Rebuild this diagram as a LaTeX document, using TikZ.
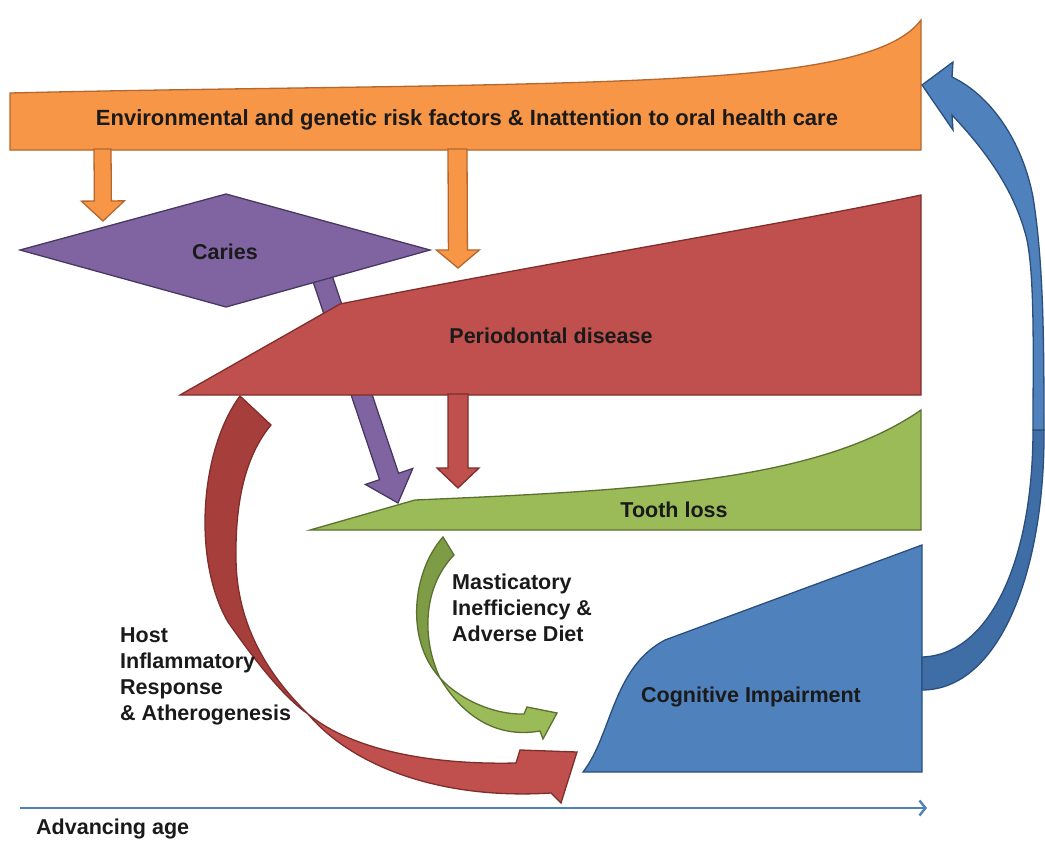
\documentclass[tikz,border=0pt]{standalone}
\usepackage{fontspec}
\setmainfont{Liberation Sans}
\usetikzlibrary{calc,arrows.meta}

\definecolor{orfill}{HTML}{F79646}
\definecolor{orline}{HTML}{B4672E}
\definecolor{rdfill}{HTML}{C0504D}
\definecolor{rddark}{HTML}{A63E3C}
\definecolor{rdline}{HTML}{7F2E2C}
\definecolor{pufill}{HTML}{8064A2}
\definecolor{puline}{HTML}{483861}
\definecolor{grfill}{HTML}{9BBB59}
\definecolor{grdark}{HTML}{7E9B45}
\definecolor{grline}{HTML}{5A7130}
\definecolor{blfill}{HTML}{4F81BD}
\definecolor{bldark}{HTML}{3F6DA6}
\definecolor{blline}{HTML}{2B4F7C}
\definecolor{ink}{HTML}{1A1A1A}

\tikzset{
  orshape/.style={fill=orfill, draw=orline, line width=1.3pt},
  rdshape/.style={fill=rdfill, draw=rdline, line width=1.3pt},
  rdback/.style={fill=rddark, draw=rdline, line width=1.3pt},
  pushape/.style={fill=pufill, draw=puline, line width=1.3pt},
  grshape/.style={fill=grfill, draw=grline, line width=1.3pt},
  grback/.style={fill=grdark, draw=grline, line width=1.3pt},
  blshape/.style={fill=blfill, draw=blline, line width=1.3pt},
  blback/.style={fill=bldark, draw=blline, line width=1.3pt},
  lbl/.style={font=\bfseries\fontsize{21.5}{26}\selectfont, text=ink, inner sep=0pt},
  sidelbl/.style={lbl, align=left, anchor=west},
  agelbl/.style={lbl, anchor=west},
  axis/.style={draw=blfill, line width=2.4pt, -{Straight Barb[length=6pt,width=15pt,line width=2.4pt]}},
}

% straight block arrow: style, start, tip, shaft half width, head half width, head length
\newcommand{\blockarrow}[6]{%
  \coordinate (ba-h) at ($(#3)!#6!(#2)$);
  \path[#1] ($(#2)!#4!90:(#3)$) -- ($(ba-h)!#4!90:(#3)$) -- ($(ba-h)!#5!90:(#3)$)
    -- (#3) -- ($(ba-h)!#5!-90:(#3)$) -- ($(ba-h)!#4!-90:(#3)$)
    -- ($(#2)!#4!-90:(#3)$) -- cycle;
}

\begin{document}
\begin{tikzpicture}[x=1pt,y=-1pt]
\useasboundingbox[fill=white] (0,0) rectangle (1045,841);

% anchor points of the straight arrows
\coordinate (envL) at (102.5,149);
\coordinate (cariesTop) at (103,221);
\coordinate (envR) at (457.5,149);
\coordinate (perioTop) at (458,268);
\coordinate (cariesIn) at (318,265);
\coordinate (toothA) at (398,503);
\coordinate (perioOut) at (458,394);
\coordinate (toothB) at (458,488);

% risk factor banner
\path[orshape] (10,93) .. controls (300,86) and (600,88) .. (760,72)
  .. controls (845,63) and (900,48) .. (921,20) -- (921,150) -- (10,150) -- cycle;
\node[lbl, font=\bfseries\fontsize{22}{26}\selectfont] (env) at (467,120)
  {Environmental and genetic risk factors \& Inattention to oral health care};

\blockarrow{orshape}{envL}{cariesTop}{8.5pt}{21.5pt}{20pt}
\blockarrow{orshape}{envR}{perioTop}{9.5pt}{21.5pt}{18pt}

% caries to tooth loss (passes behind the caries and periodontal shapes)
\blockarrow{pushape}{cariesIn}{toothA}{10pt}{25pt}{28pt}

% caries
\path[pushape] (20,250) -- (226,194) -- (430,250) -- (226,307) -- cycle;
\node[lbl] (caries) at (225,252) {Caries};

% periodontal disease
\path[rdshape] (180,395) -- (340,304) .. controls (550,262) and (780,225) .. (921,195)
  -- (921,395) -- cycle;
\node[lbl] (perio) at (551,336) {Periodontal disease};

\blockarrow{rdshape}{perioOut}{toothB}{10pt}{21pt}{20pt}

% tooth loss
\path[grshape] (310,530) -- (415,500) .. controls (650,490) and (820,480) .. (921,410)
  -- (921,530) -- cycle;
\node[lbl] (tooth) at (674,510) {Tooth loss};

% host inflammatory response arrow
\path[rdback] (240,396) .. controls (200,450) and (192,560) .. (228,622)
  .. controls (258,665) and (285,698) .. (308,714)
  .. controls (265,672) and (237,622) .. (236,560)
  .. controls (235,500) and (246,455) .. (271,425) -- cycle;
\path[rdshape] (308,714) .. controls (352,766) and (440,800) .. (551,793)
  -- (561,803) -- (577,752) -- (520,750) -- (516,763)
  .. controls (430,765) and (352,750) .. (308,714) -- cycle;

% masticatory arrow
\path[grback] (443,537) .. controls (412,572) and (405,640) .. (440,678)
  .. controls (422,640) and (422,588) .. (454,555) -- cycle;
\path[grshape] (440,678) .. controls (465,720) and (500,738) .. (540,731)
  -- (543,739) -- (557,713) -- (527,707) -- (524,714)
  .. controls (495,715) and (460,700) .. (440,678) -- cycle;

% cognitive impairment
\path[blshape] (583,772) .. controls (612,735) and (612,668) .. (665,640)
  -- (922,545) -- (922,772) -- cycle;
\node[lbl] (cogn) at (751,697) {Cognitive Impairment};

% feedback arrow to the risk factors
\path[blback] (922,657) .. controls (990,655) and (1033,560) .. (1033,430)
  -- (1044,430) .. controls (1045,570) and (1000,690) .. (922,690) -- cycle;
\path[blshape] (1033,430) .. controls (1033,360) and (1035,280) .. (1027,240)
  .. controls (1015,190) and (985,150) .. (952,115)
  -- (953,130) -- (922,85) -- (953,62) -- (952,77)
  .. controls (990,95) and (1022,140) .. (1033,197)
  .. controls (1043,260) and (1044,330) .. (1044,430) -- cycle;

% side labels
\node[sidelbl] (mast) at (452,608) {Masticatory\\Inefficiency \&\\Adverse Diet};
\node[sidelbl] (host) at (120,676) {Host\\Inflammatory\\Response\\\& Atherogenesis};

% age axis
\coordinate (ageStart) at (20,808);
\coordinate (ageEnd) at (927,808);
\draw[axis] (ageStart) -- (ageEnd);
\node[agelbl] (age) at (36,829) {Advancing age};
\end{tikzpicture}
\end{document}
